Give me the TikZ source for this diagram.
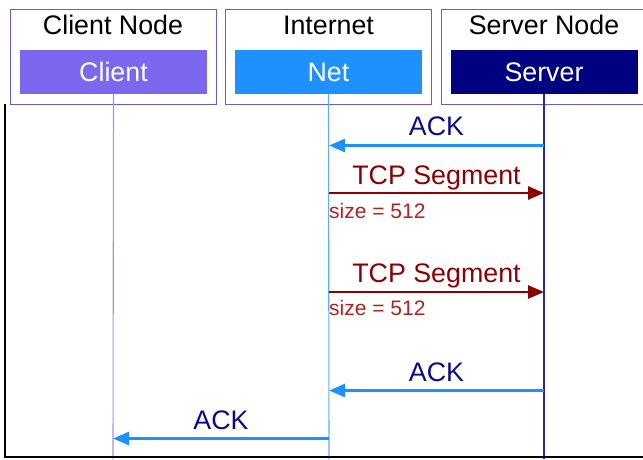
\documentclass[tikz,border=0pt]{standalone}
\usepackage{fontspec}
\setmainfont{Liberation Sans}
\usetikzlibrary{arrows.meta}

\definecolor{grpedge}{RGB}{106,90,205}
\definecolor{clientfill}{RGB}{123,104,238}
\definecolor{netfill}{RGB}{30,144,255}
\definecolor{serverfill}{RGB}{0,0,128}
\definecolor{clientline}{RGB}{160,148,242}
\definecolor{netline}{RGB}{90,174,255}
\definecolor{serverline}{RGB}{40,40,160}
\definecolor{ackblue}{RGB}{30,144,255}
\definecolor{acktext}{RGB}{10,10,140}
\definecolor{segred}{RGB}{139,0,0}
\definecolor{sizered}{RGB}{178,34,34}

\tikzset{
  grpbox/.style={draw=grpedge, line width=0.9pt, minimum width=206pt, minimum height=95pt, inner sep=0pt},
  grptitle/.style={anchor=base, font=\fontsize{26.8}{30}\selectfont, text=black, inner sep=0pt},
  actor/.style={minimum width=187pt, minimum height=44pt, inner sep=0pt, text=white, font=\fontsize{26.8}{30}\selectfont},
  lifeline/.style={line width=1.1pt},
  ackmsg/.style={draw=ackblue, line width=2.8pt, -{Triangle[length=16pt,width=13pt]}},
  segmsg/.style={draw=segred, line width=2.8pt, -{Triangle[length=16pt,width=13pt]}},
  msglabel/.style={anchor=base, inner sep=0pt, font=\fontsize{26.8}{30}\selectfont},
  sizelabel/.style={anchor=base west, inner sep=0pt, text=sizered, font=\fontsize{21}{24}\selectfont},
}

\begin{document}
\begin{tikzpicture}[x=1pt, y=-1pt]
\useasboundingbox (0,0) rectangle (643,459);

% participant groups
\node[grpbox] (gclient) at (113,56.5) {};
\node[grpbox] (gnet)    at (328.5,56.5) {};
\node[grpbox] (gserver) at (544,56.5) {};
\node[grptitle] (tclient) at (113,34) {Client Node};
\node[grptitle] (tnet)    at (328.5,34) {Internet};
\node[grptitle] (tserver) at (544,34) {Server Node};

% participants
\node[actor, fill=clientfill] (client) at (113.5,72) {Client};
\node[actor, fill=netfill]    (net)    at (328.5,72) {Net};
\node[actor, fill=serverfill] (server) at (544,72) {Server};

% lifeline ends
\coordinate (cend) at (113,459);
\coordinate (nend) at (329,459);
\coordinate (send) at (544,459);
\draw[lifeline, clientline] (client.south) -- (cend);
\draw[lifeline, netline]    (net.south)    -- (nend);
\draw[lifeline, serverline] (server.south) -- (send);

% frame
\coordinate (ftop) at (5,104);
\coordinate (fcorner) at (5,457);
\coordinate (fright) at (643,457);
\draw[line width=2.4pt, black] (ftop) -- (fcorner) -- (fright);

% message anchors on lifelines
\coordinate (s1) at (544,145.5);  \coordinate (n1) at (329,145.5);
\coordinate (n2) at (329,193);    \coordinate (s2) at (544,193);
\coordinate (n3) at (329,292);    \coordinate (s3) at (544,292);
\coordinate (s4) at (544,390.5);  \coordinate (n4) at (329,390.5);
\coordinate (n5) at (329,438.5);  \coordinate (c5) at (113,438.5);

% messages
\draw[ackmsg] (s1) -- (n1);
\node[msglabel, text=acktext] (l1) at (436.5,135) {ACK};

\draw[segmsg] (n2) -- (s2);
\node[msglabel, text=segred] (l2) at (436.5,184) {TCP Segment};
\node[sizelabel] (z2) at (329,218) {size = 512};

\draw[segmsg] (n3) -- (s3);
\node[msglabel, text=segred] (l3) at (436.5,282) {TCP Segment};
\node[sizelabel] (z3) at (329,315) {size = 512};

\draw[ackmsg] (s4) -- (n4);
\node[msglabel, text=acktext] (l4) at (436.5,381) {ACK};

\draw[ackmsg] (n5) -- (c5);
\node[msglabel, text=acktext] (l5) at (221,429) {ACK};
\end{tikzpicture}
\end{document}
